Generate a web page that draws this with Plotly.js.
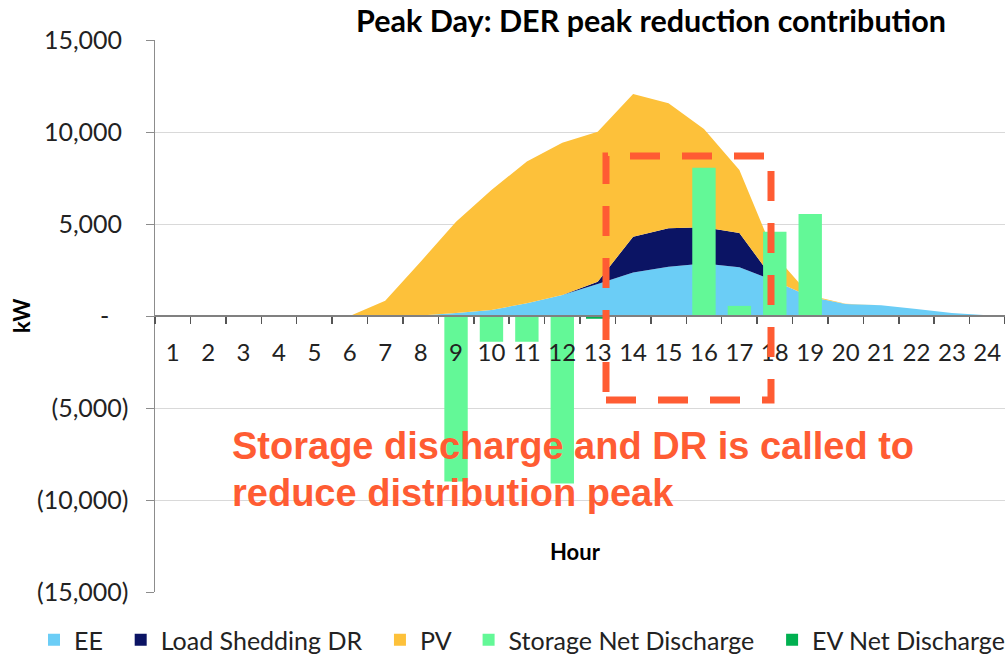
<!DOCTYPE html>
<html><head><meta charset="utf-8">
<script src="https://cdn.plot.ly/plotly-3.0.1.min.js"></script>
<style>html,body{margin:0;padding:0;background:#fff}#chart{width:1005px;height:658px}</style>
</head><body><div id="chart"></div>
<script>
// ---- data ----
const hours = ['1','2','3','4','5','6','7','8','9','10','11','12','13','14','15','16','17','18','19','20','21','22','23','24'];
const ee      = [0,0,0,0,0,0,0,30,160,330,690,1140,1740,2360,2680,2860,2650,1900,1050,650,580,380,160,40];
const dr      = [0,0,0,0,0,0,0,0,0,0,0,0,120,1950,2090,1960,1860,0,0,0,0,0,0,0];
const pv      = [0,0,0,0,0,0,830,2920,4965,6520,7700,8280,8160,7760,6790,5340,3420,1400,70,10,0,0,0,0];
const storage = [0,0,0,0,0,0,0,0,-9000,-1400,-1400,-9100,0,0,0,8060,550,4580,5540,0,0,0,0,0];
const ev      = [0,0,0,0,0,0,0,0,0,0,0,0,-150,0,0,0,0,0,0,0,0,0,0,0];
const yTickVals = [-15000,-10000,-5000,0,5000,10000,15000];
const yTickText = ['(15,000)','(10,000)','(5,000)','-\u00a0\u00a0\u00a0','5,000\u00a0','10,000\u00a0','15,000\u00a0'];
const seriesNames = ['EE','Load Shedding DR','PV','Storage Net Discharge','EV Net Discharge'];
const colors = ['#6BCDF6','#0B1464','#FDC13A','#63F897','#00B050'];
const titleText = 'Peak Day: DER peak reduction contribution';
const noteLines = ['Storage discharge and DR is called to','reduce distribution peak'];

const FONT = 'Lato, "Open Sans", sans-serif';
const RED = '#FF5C33';
const PAD = '\u00a0\u00a0';

const areaVals = [ee, dr, pv];
const traces = [];
areaVals.forEach((v, i) => {
  traces.push({type:'scatter', x:hours, y:v, stackgroup:'der', mode:'none',
    fillcolor:colors[i], line:{width:0}, name:seriesNames[i],
    showlegend:false, hoverinfo:'x+y+name'});
});
// legend entries for the areas (square icons like the reference)
areaVals.forEach((v, i) => {
  traces.push({type:'bar', x:[null], y:[null], xaxis:'x2', yaxis:'y2',
    marker:{color:colors[i]}, name:seriesNames[i] + PAD});
});
traces.push({type:'bar', x:hours, y:storage, xaxis:'x2', yaxis:'y2',
  marker:{color:colors[3]}, name:seriesNames[3] + PAD});
traces.push({type:'bar', x:hours, y:ev, xaxis:'x2', yaxis:'y2',
  marker:{color:colors[4]}, name:seriesNames[4]});

const L = 155, R = 1005, T = 40, B = 592;
const px = x => (x - L) / (R - L);
const py = y => (B - y) / (B - T);
const NOTEFONT = {family:'"Liberation Sans", Arial, sans-serif', size:38, weight:700, color:RED};

const layout = {
  width:1005, height:658,
  margin:{l:155, r:0, t:40, b:66, pad:0, autoexpand:false},
  paper_bgcolor:'#fff', plot_bgcolor:'#fff',
  font:{family:FONT, color:'#222'},
  showlegend:true,
  barmode:'relative', bargap:0.34,
  title:{text:titleText, font:{family:FONT, size:30.5, weight:700, color:'#000'},
    x:px(651), xref:'paper', xanchor:'center', y:1-21/658, yref:'container', yanchor:'middle'},
  xaxis:{type:'category', range:[-0.5,23.5], anchor:'free', position:0.5,
    showline:true, linecolor:'#808080', linewidth:2,
    ticks:'outside', tickson:'boundaries', ticklen:7, tickcolor:'#555', tickwidth:1.5,
    tickangle:0, tickfont:{family:FONT, size:24, color:'#222'}, ticklabelstandoff:15,
    showgrid:false, zeroline:false, fixedrange:true, automargin:false},
  yaxis:{range:[-15000,15000], tickvals:yTickVals, ticktext:yTickText,
    showgrid:true, gridcolor:'#D9D9D9', gridwidth:1, zeroline:false,
    showline:true, linecolor:'#8C8C8C', linewidth:1.5,
    ticks:'outside', ticklen:8, tickcolor:'#8C8C8C',
    tickfont:{family:FONT, size:25, color:'#222'}, ticklabelstandoff:12, fixedrange:true, automargin:false},
  xaxis2:{type:'category', overlaying:'x', range:[-0.5,23.5], visible:false, fixedrange:true},
  yaxis2:{overlaying:'y', range:[-15000,15000], visible:false, fixedrange:true},
  legend:{orientation:'h', xref:'paper', yref:'paper', x:px(34), y:py(640),
    xanchor:'left', yanchor:'middle', traceorder:'normal',
    font:{family:FONT, size:25, color:'#222'}, itemclick:false, bgcolor:'rgba(0,0,0,0)'},
  shapes:[{type:'rect', xref:'paper', yref:'paper', x0:px(606), x1:px(771), y0:py(400), y1:py(156),
    line:{color:RED, width:7, dash:'30px,22px'}, fillcolor:'rgba(0,0,0,0)', layer:'above'}],
  annotations:[
    {text:'kW', xref:'paper', yref:'paper', x:px(21), y:0.5, xanchor:'center', yanchor:'middle', textangle:-90, showarrow:false,
      font:{family:FONT, size:22, weight:700, color:'#000'}},
    {text:'Hour', xref:'paper', yref:'paper', x:px(575), y:py(551), xanchor:'center', yanchor:'middle', showarrow:false,
      font:{family:FONT, size:22, weight:700, color:'#000'}},
    {text:noteLines[0], xref:'paper', yref:'paper', x:px(230), y:py(446), xanchor:'left', yanchor:'middle', showarrow:false, font:NOTEFONT},
    {text:noteLines[1], xref:'paper', yref:'paper', x:px(230), y:py(493), xanchor:'left', yanchor:'middle', showarrow:false, font:NOTEFONT}
  ]
};
Plotly.newPlot('chart', traces, layout, {displayModeBar:false, staticPlot:true});
</script>
</body></html>
